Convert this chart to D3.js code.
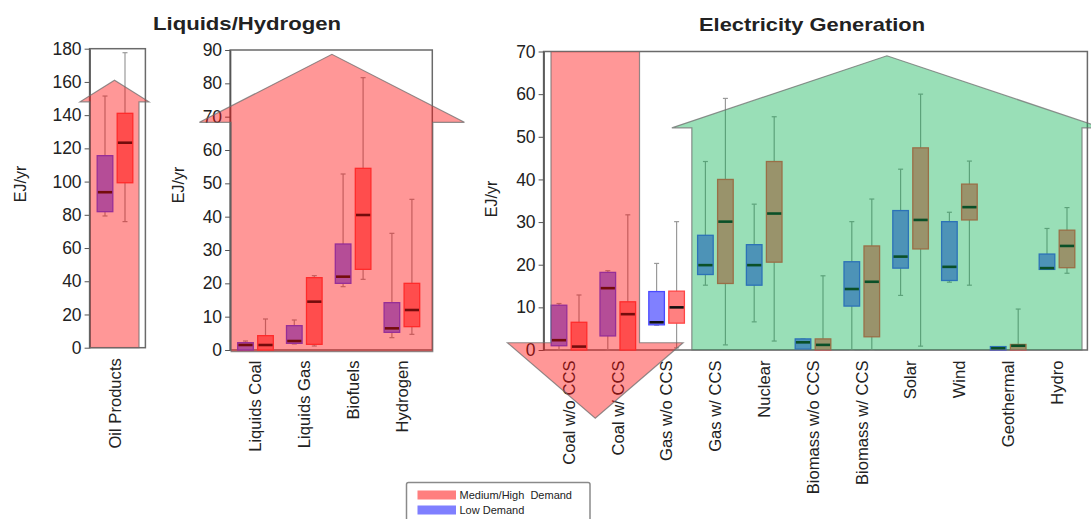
<!DOCTYPE html>
<html>
<head>
<meta charset="utf-8">
<script src="https://cdn.jsdelivr.net/npm/d3@7"></script>
<style>
body { margin: 0; background: #fff; }
text { font-family: "Liberation Sans", Arial, sans-serif; fill: #222; }
</style>
</head>
<body>
<svg id="chart" width="1091" height="519"></svg>
<script>
// categories
let oilCats = ["Oil Products"];
let liqCats = ["Liquids Coal", "Liquids Gas", "Biofuels", "Hydrogen"];
let elecCats = ["Coal w/o CCS", "Coal w/ CCS", "Gas w/o CCS", "Gas w/ CCS", "Nuclear",
    "Biomass w/o CCS", "Biomass w/ CCS", "Solar", "Wind", "Geothermal", "Hydro"];

// box stats per category: [whisker low, q1, median, q3, whisker high], EJ/yr
let oilLow  = [[79.3, 81.9, 93.6, 115.6, 151.5]];
let oilHigh = [[75.9, 99.3, 123.4, 141.1, 177.6]];

let liqLow  = [[0, 0, 1.5, 2.2, 2.7], [1.8, 2, 2.7, 7.3, 9], [19, 20, 22, 31.8, 52.8], [3.7, 5.3, 6.5, 14.2, 35]];
let liqHigh = [[0, 0, 1.5, 4.3, 9.3], [1.2, 1.7, 14.5, 21.7, 22.3], [21.2, 24.2, 40.5, 54.5, 81.7], [4.7, 7, 12, 20, 45.2]];

let elecLow = [
    [0, 1.0, 2.3, 10.5, 10.9],
    [0, 3.3, 14.5, 18.2, 18.6],
    [5.8, 5.9, 6.5, 13.7, 20.3],
    [15.2, 17.7, 19.9, 26.9, 44.2],
    [6.6, 15.2, 19.9, 24.7, 34.2],
    [0.2, 0.2, 1.8, 2.6, 2.6],
    [0, 10.3, 14.3, 20.7, 30.1],
    [12.8, 19.2, 21.9, 32.7, 42.4],
    [15.9, 16.3, 19.5, 30.1, 32.3],
    [0, 0, 0.4, 0.8, 0.8],
    [18.9, 18.9, 19.2, 22.5, 28.5]
];
let elecHigh = [
    [0, 0, 0.8, 6.5, 12.9],
    [0, 0, 8.4, 11.3, 31.7],
    [0.5, 6.3, 10, 13.8, 30.1],
    [1.2, 15.6, 30.1, 40, 59],
    [2.1, 20.6, 32, 44.2, 54.7],
    [0, 0, 1.2, 2.6, 17.4],
    [0, 3.1, 16, 24.4, 35.4],
    [0.9, 23.7, 30.5, 47.4, 60],
    [15.2, 30.5, 33.5, 38.9, 44.3],
    [0, 0, 1.0, 1.3, 9.6],
    [18, 19.3, 24.4, 28.1, 33.4]
];

let legendLabels = ["Medium/High  Demand", "Low Demand"];

let svg = d3.select('#chart');

// panel layout
let panels = [
    { cats: oilCats, low: oilLow, high: oilHigh, x0: 90.6, yTop: 48.7, yBot: 347.7, max: 180, step: 20, unitX: 20, unitY: 184 },
    { cats: liqCats, low: liqLow, high: liqHigh, x0: 231.1, yTop: 50, yBot: 350, max: 90, step: 10, unitX: 178, unitY: 185 },
    { cats: elecCats, low: elecLow, high: elecHigh, x0: 544.6, yTop: 51.5, yBot: 350, max: 70, step: 10, unitX: 491, unitY: 199 }
];
let bw = 48.8;

let boxW = 15.6;
let lowStyle = { fill: '#8080ff', stroke: '#4a4aff' };
let highStyle = { fill: '#ff8080', stroke: '#ff4545' };

let layers = [];

panels.forEach((p) => {
    let n = p.cats.length;
    p.x = d3.scaleBand().domain(p.cats).range([p.x0, p.x0 + n * bw]);
    p.u = d3.scaleLinear().domain([0, n]).range([p.x0, p.x0 + n * bw]);
    p.y = d3.scaleLinear().domain([0, p.max]).range([p.yBot, p.yTop]);

    let g = svg.append('g');
    let left = p.x0 - 1;
    let right = p.x0 + n * bw + 6;

    // frame
    g.append('rect')
        .attr('x', left).attr('y', p.yTop)
        .attr('width', right - left).attr('height', p.yBot - p.yTop)
        .attr('fill', 'none').attr('stroke', '#6a6a6a').attr('stroke-width', 1.5);

    // y axis
    let axis = g.append('g')
        .attr('transform', 'translate(' + left + ',0)')
        .call(d3.axisLeft(p.y)
            .tickValues(d3.range(0, p.max + 0.1, p.step))
            .tickSize(5).tickSizeOuter(0).tickPadding(3));
    axis.select('.domain').attr('stroke', '#555').attr('stroke-width', 1.5);
    axis.selectAll('line').attr('stroke', '#555');
    axis.selectAll('text')
        .attr('fill', '#222')
        .style('font-size', '17.5px')
        .style('font-family', '"Liberation Sans", Arial, sans-serif');

    g.append('text')
        .attr('transform', 'translate(' + p.unitX + ',' + p.unitY + ') rotate(-90)')
        .attr('text-anchor', 'middle')
        .attr('dy', '0.35em')
        .style('font-size', '16px')
        .text('EJ/yr');

    // category labels
    g.selectAll('.cat')
        .data(p.cats)
        .enter()
        .append('text')
        .attr('class', 'cat')
        .attr('transform', (c) => 'translate(' + (p.x(c) + bw / 2) + ',' + (p.yBot + 10.5) + ') rotate(-90)')
        .attr('text-anchor', 'end')
        .attr('dy', '0.35em')
        .style('font-size', '16.6px')
        .text((c) => c);

    // boxes
    let drawBoxes = (stats, off, st) => {
        let box = g.selectAll(null)
            .data(stats)
            .enter()
            .append('g')
            .attr('transform', (s, i) => 'translate(' + (p.x(p.cats[i]) + bw / 2 + off) + ',0)');

        box.append('line')
            .attr('y1', (s) => p.y(s[0])).attr('y2', (s) => p.y(s[4]))
            .attr('stroke', '#9a9a9a').attr('stroke-width', 1.2);
        box.append('line')
            .attr('x1', -2.5).attr('x2', 2.5)
            .attr('y1', (s) => p.y(s[4])).attr('y2', (s) => p.y(s[4]))
            .attr('stroke', '#9a9a9a').attr('stroke-width', 1.2);
        box.append('line')
            .attr('x1', -2.5).attr('x2', 2.5)
            .attr('y1', (s) => p.y(s[0])).attr('y2', (s) => p.y(s[0]))
            .attr('stroke', '#9a9a9a').attr('stroke-width', 1.2);
        box.append('rect')
            .attr('x', -boxW / 2).attr('width', boxW)
            .attr('y', (s) => p.y(s[3]))
            .attr('height', (s) => Math.max(p.y(s[1]) - p.y(s[3]), 1))
            .attr('fill', st.fill).attr('stroke', st.stroke).attr('stroke-width', 1.3);
        box.append('line')
            .attr('x1', -boxW / 2 + 0.7).attr('x2', boxW / 2 - 0.7)
            .attr('y1', (s) => p.y(s[2])).attr('y2', (s) => p.y(s[2]))
            .attr('stroke', '#111').attr('stroke-width', 2.6);
    };
    drawBoxes(p.low, -10, lowStyle);
    drawBoxes(p.high, 10, highStyle);
});

// titles
svg.append('text').attr('x', 247).attr('y', 30).attr('text-anchor', 'middle')
    .style('font-size', '19px').style('font-weight', 'bold')
    .attr('textLength', 188).attr('lengthAdjust', 'spacingAndGlyphs')
    .text('Liquids/Hydrogen');
svg.append('text').attr('x', 812).attr('y', 31).attr('text-anchor', 'middle')
    .style('font-size', '19px').style('font-weight', 'bold')
    .attr('textLength', 226).attr('lengthAdjust', 'spacingAndGlyphs')
    .text('Electricity Generation');

// arrows, in category units and EJ/yr, drawn over everything
let upArrow = (p, cu, sh, wh, base, wing, apex) => [
    [cu - sh, base], [cu - sh, wing], [cu - wh, wing], [cu, apex],
    [cu + wh, wing], [cu + sh, wing], [cu + sh, base]
].map((d) => [p.u(d[0]), p.y(d[1])]);

let arrows = [
    { pts: upArrow(panels[0], 0.49, 0.502, 0.707, 0, 148, 161), fill: 'rgba(255,8,8,0.42)' },
    { pts: upArrow(panels[1], 2.066, 2.067, 2.715, -0.5, 68.3, 88.7), fill: 'rgba(255,8,8,0.42)' },
    { pts: upArrow(panels[2], 7.015, 3.998, 4.408, 0, 52.1, 69), fill: 'rgba(0,176,76,0.4)' },
    { pts: upArrow(panels[2], 1.038, 0.907, 1.8, 70, 1.7, -16), fill: 'rgba(255,8,8,0.42)' }
];

svg.selectAll('.arrow')
    .data(arrows)
    .enter()
    .append('path')
    .attr('class', 'arrow')
    .attr('d', (a) => 'M' + a.pts.map((pt) => pt.join(',')).join('L') + 'Z')
    .attr('fill', (a) => a.fill)
    .attr('stroke', 'rgba(110,110,110,0.75)')
    .attr('stroke-width', 1.2);

// legend
let lg = svg.append('g').attr('transform', 'translate(406.5,482.5)');
lg.append('rect').attr('width', 183.5).attr('height', 50).attr('rx', 2)
    .attr('fill', '#fff').attr('stroke', '#8a8a8a').attr('stroke-width', 1.5);
let legendColors = ['#ff7f7f', '#7f7fff'];
legendLabels.forEach((l, i) => {
    lg.append('rect').attr('x', 11).attr('y', 8 + i * 15).attr('width', 38.5).attr('height', 9)
        .attr('fill', legendColors[i]);
    lg.append('text').attr('x', 53).attr('y', 16.5 + i * 15)
        .style('font-size', '11px').attr('fill', '#333')
        .style('white-space', 'pre')
        .text(l);
});
</script>
</body>
</html>
